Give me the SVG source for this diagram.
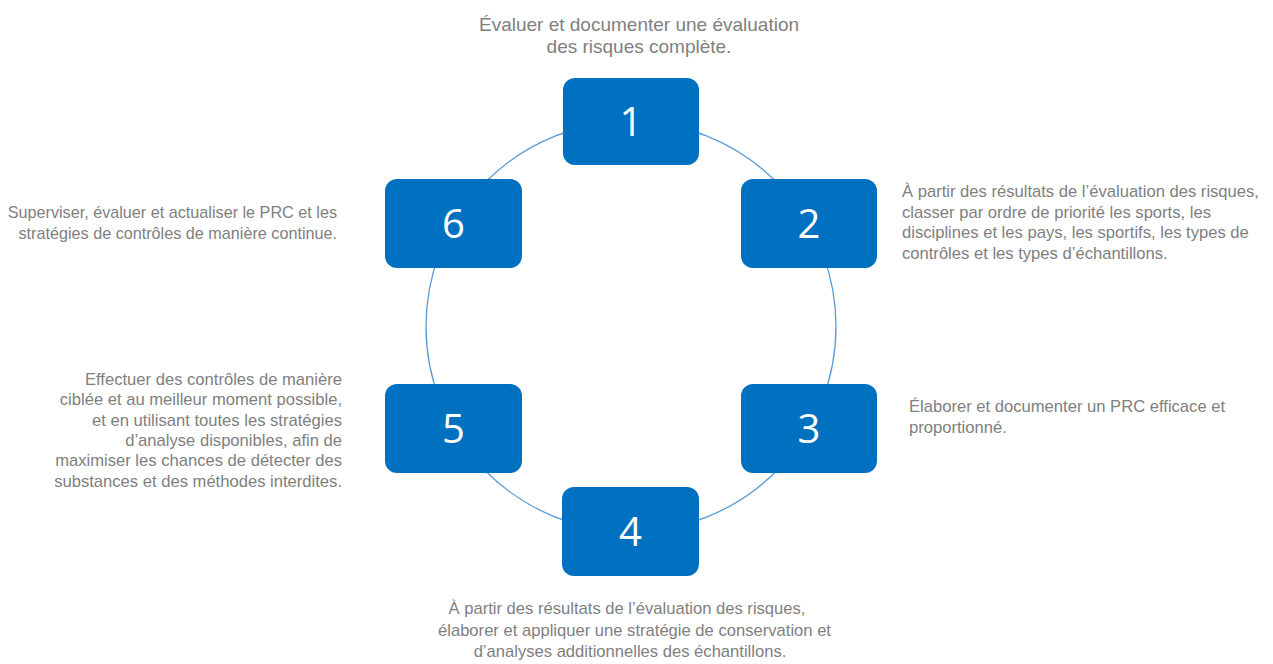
<svg xmlns="http://www.w3.org/2000/svg" width="1273" height="664" viewBox="0 0 1273 664">
<style>
.node rect{fill:#0070C0;}
.num{font-family:"Open Sans","Liberation Sans",sans-serif;font-size:40px;fill:#FFFFFF;text-anchor:middle;}
.lbl{font-family:"Liberation Sans",Arial,sans-serif;font-size:16.6px;fill:#808080;}
.top{font-size:19px;}
.sm{font-size:16.2px;}
.ring{fill:none;stroke:#5B9BD5;stroke-width:1.3;}
</style>
<rect width="1273" height="664" fill="#FFFFFF"/>
<g id="connectors">
<circle class="ring" cx="631" cy="326.5" r="205"/>
</g>
<g id="node1" class="node">
<rect x="563" y="78" width="136" height="87" rx="12"/>
<text class="num" x="631" y="135.5">1</text>
</g>
<g id="node2" class="node">
<rect x="741" y="179" width="136" height="89" rx="12"/>
<text class="num" x="809" y="237.5">2</text>
</g>
<g id="node3" class="node">
<rect x="741" y="384" width="136" height="89" rx="12"/>
<text class="num" x="809" y="442.5">3</text>
</g>
<g id="node4" class="node">
<rect x="562" y="487" width="137" height="89" rx="12"/>
<text class="num" x="630.5" y="545.5">4</text>
</g>
<g id="node5" class="node">
<rect x="385" y="384" width="137" height="89" rx="12"/>
<text class="num" x="453.5" y="442.5">5</text>
</g>
<g id="node6" class="node">
<rect x="385" y="179" width="137" height="89" rx="12"/>
<text class="num" x="453.5" y="237.5">6</text>
</g>
<g id="labels">
<text class="lbl top" text-anchor="middle"><tspan x="639" y="31">Évaluer et documenter une évaluation</tspan><tspan x="639" y="53">des risques complète.</tspan></text>
<text class="lbl"><tspan x="902" y="197">À partir des résultats de l’évaluation des risques,</tspan><tspan x="902" y="217.5">classer par ordre de priorité les sports, les</tspan><tspan x="902" y="238">disciplines et les pays, les sportifs, les types de</tspan><tspan x="902" y="258.5">contrôles et les types d’échantillons.</tspan></text>
<text class="lbl"><tspan x="909" y="412">Élaborer et documenter un PRC efficace et</tspan><tspan x="909" y="432.5">proportionné.</tspan></text>
<text class="lbl" text-anchor="middle"><tspan x="627" y="614">À partir des résultats de l’évaluation des risques,</tspan><tspan x="634.5" y="636">élaborer et appliquer une stratégie de conservation et</tspan><tspan x="630" y="657">d’analyses additionnelles des échantillons.</tspan></text>
<text class="lbl" text-anchor="end"><tspan x="342" y="385">Effectuer des contrôles de manière</tspan><tspan x="342" y="405.3">ciblée et au meilleur moment possible,</tspan><tspan x="342" y="425.6">et en utilisant toutes les stratégies</tspan><tspan x="342" y="445.9">d’analyse disponibles, afin de</tspan><tspan x="342" y="466.2">maximiser les chances de détecter des</tspan><tspan x="342" y="486.5">substances et des méthodes interdites.</tspan></text>
<text class="lbl sm" text-anchor="end"><tspan x="337" y="218">Superviser, évaluer et actualiser le PRC et les</tspan><tspan x="337" y="239">stratégies de contrôles de manière continue.</tspan></text>
</g>
</svg>
